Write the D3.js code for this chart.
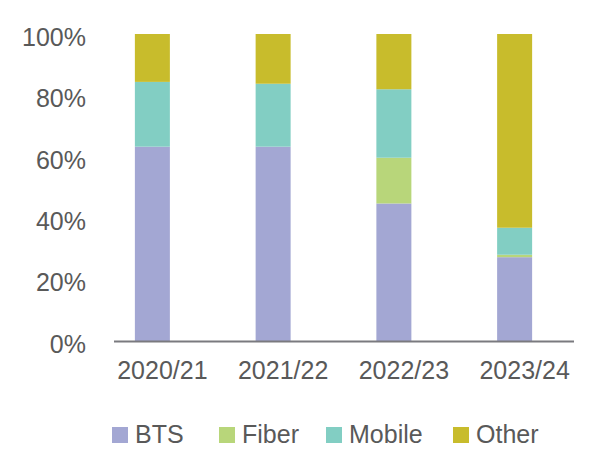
<!DOCTYPE html>
<html>
<head>
<meta charset="utf-8">
<script src="https://cdn.jsdelivr.net/npm/d3@7"></script>
<style>
  body { margin: 0; background: #fff; }
  text { font-family: "Liberation Sans", Arial, sans-serif; fill: #595959; }
</style>
</head>
<body>
<div id="chart"></div>
<script>
// data (percent of total)
var years = ["2020/21", "2021/22", "2022/23", "2023/24"];
var series = ["BTS", "Fiber", "Mobile", "Other"];
var bts    = [63.3, 63.3, 44.8, 27.3];
var fiber  = [0, 0, 14.9, 0.8];
var mobile = [21.1, 20.5, 22.3, 8.8];
var other  = [15.6, 16.2, 18.0, 63.1];
var yTicks = [0, 20, 40, 60, 80, 100];

var colors = ["#a3a7d3", "#b8d67a", "#82cec3", "#c8bc2c"];

var width = 610, height = 450;

var rows = years.map(function(y, i) {
  return {year: y, BTS: bts[i], Fiber: fiber[i], Mobile: mobile[i], Other: other[i]};
});

var xScale = d3.scaleBand().domain(years).range([92, 575]),
    yScale = d3.scaleLinear().domain([0, 100]).range([341, 34]),
    colorScale = d3.scaleOrdinal().domain(series).range(colors);

var barWidth = 35;

var svg = d3.select("#chart").append("svg")
  .attr("width", width)
  .attr("height", height);

var stacked = d3.stack().keys(series)(rows);

svg.append("g")
  .selectAll("g")
  .data(stacked)
  .enter().append("g")
    .attr("fill", function(d) { return colorScale(d.key); })
  .selectAll("rect")
  .data(function(d) { return d; })
  .enter().append("rect")
    .attr("x", function(d) { return xScale(d.data.year) + xScale.bandwidth() / 2 - barWidth / 2; })
    .attr("width", barWidth)
    .attr("y", function(d) { return yScale(d[1]); })
    .attr("height", function(d) { return yScale(d[0]) - yScale(d[1]); });

// y axis (labels only)
var gY = svg.append("g")
  .attr("transform", "translate(86,0)")
  .call(d3.axisLeft(yScale).tickValues(yTicks).tickSize(0).tickPadding(0)
    .tickFormat(function(d) { return d + "%"; }));
gY.select(".domain").remove();
gY.selectAll("text")
  .attr("dy", "0.45em")
  .style("font-size", "25px")
  .style("font-family", "'Liberation Sans', Arial, sans-serif")
  .attr("fill", "#595959");

// x axis line
svg.append("line")
  .attr("x1", 114).attr("x2", 574)
  .attr("y1", yScale(0) + 0.5).attr("y2", yScale(0) + 0.5)
  .attr("stroke", "#7a7a7f")
  .attr("stroke-width", 2);

var gX = svg.append("g")
  .attr("transform", "translate(0," + yScale(0) + ")")
  .call(d3.axisBottom(xScale).tickSize(0).tickPadding(0));
gX.select(".domain").remove();
gX.selectAll("text")
  .attr("dx", 10)
  .attr("y", 38)
  .attr("dy", 0)
  .style("font-size", "25px")
  .style("font-family", "'Liberation Sans', Arial, sans-serif")
  .attr("fill", "#595959");

// legend
var legendX = [112, 219, 326, 453];
var legend = svg.append("g")
  .selectAll("g")
  .data(series)
  .enter().append("g")
    .attr("transform", function(d, i) { return "translate(" + legendX[i] + ",427)"; });

legend.append("rect")
  .attr("width", 16)
  .attr("height", 16)
  .attr("fill", function(d) { return colorScale(d); });

legend.append("text")
  .attr("x", 23)
  .attr("y", 16)
  .style("font-size", "25px")
  .text(function(d) { return d; });
</script>
</body>
</html>
